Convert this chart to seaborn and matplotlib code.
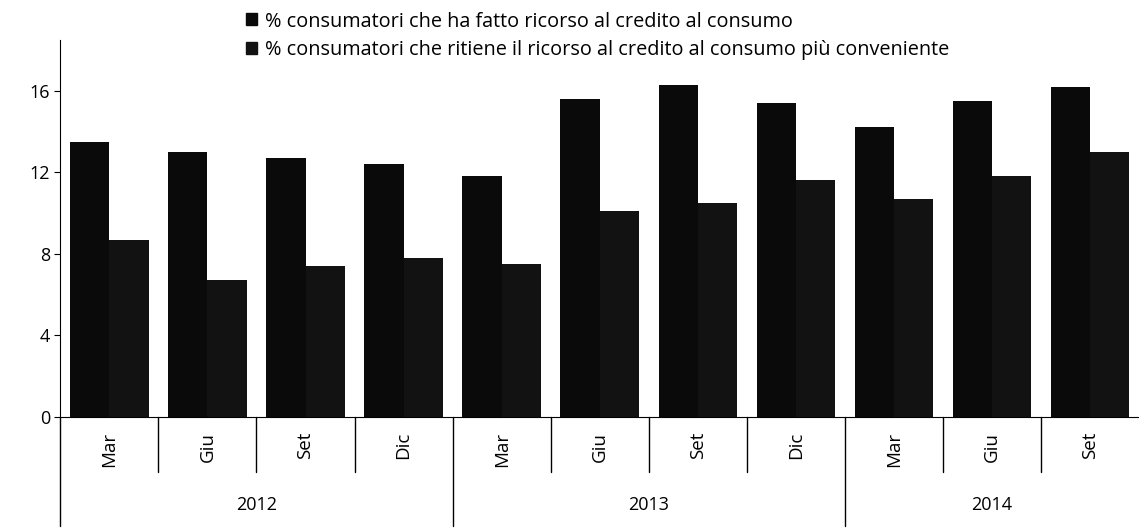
import pandas as pd
import seaborn as sns
import matplotlib.pyplot as plt
from matplotlib.patches import Patch
from matplotlib.transforms import blended_transform_factory

# Data
months = ["Mar", "Giu", "Set", "Dic", "Mar", "Giu", "Set", "Dic", "Mar", "Giu", "Set"]
years = ["2012", "2012", "2012", "2012", "2013", "2013", "2013", "2013", "2014", "2014", "2014"]
series_names = [
    "% consumatori che ha fatto ricorso al credito al consumo",
    "% consumatori che ritiene il ricorso al credito al consumo più conveniente",
]
fatto_ricorso = [13.5, 13.0, 12.7, 12.4, 11.8, 15.6, 16.3, 15.4, 14.2, 15.5, 16.2]
piu_conveniente = [8.7, 6.7, 7.4, 7.8, 7.5, 10.1, 10.5, 11.6, 10.7, 11.8, 13.0]

periods = [f"{m} {y}" for m, y in zip(months, years)]
df = pd.DataFrame({
    "period": periods * 2,
    "value": fatto_ricorso + piu_conveniente,
    "series": [series_names[0]] * len(periods) + [series_names[1]] * len(periods),
})

sns.set_style("white")
plt.rcParams["font.family"] = ["Open Sans", "DejaVu Sans"]
plt.rcParams["text.color"] = "black"
plt.rcParams["xtick.color"] = "black"
plt.rcParams["ytick.color"] = "black"

fig = plt.figure(figsize=(11.39, 5.31), dpi=100)
ax = fig.add_axes([0.053, 0.215, 0.947, 0.71])

colors = ["#0a0a0a", "#121212"]
sns.barplot(data=df, x="period", y="value", hue="series", order=periods,
            palette=colors, width=0.8, saturation=1, linewidth=0,
            ax=ax, legend=False)

ax.set_ylim(0, 18.5)
ax.set_xlim(-0.5, len(periods) - 0.5)
ax.set_yticks([0, 4, 8, 12, 16])
ax.tick_params(axis="y", labelsize=13, length=4, direction="out", left=True)
ax.set_xlabel("")
ax.set_ylabel("")
for side in ["top", "right"]:
    ax.spines[side].set_visible(False)
ax.spines["left"].set_color("black")
ax.spines["bottom"].set_color("black")

# month labels, rotated
ax.set_xticks(range(len(periods)))
ax.set_xticklabels(months, rotation=90, fontsize=13.5)
ax.tick_params(axis="x", length=0, pad=11)

# category separators (multi-level axis)
trans = blended_transform_factory(ax.transData, ax.transAxes)
for i in range(len(periods)):
    x = i - 0.5
    new_year = i == 0 or years[i] != years[i - 1]
    y_end = -0.29 if new_year else -0.145
    ax.plot([x, x], [0, y_end], color="black", lw=1, transform=trans, clip_on=False)

# year labels
for y in dict.fromkeys(years):
    idx = [i for i, yy in enumerate(years) if yy == y]
    ax.text(sum(idx) / len(idx), -0.235, y, transform=trans, ha="center",
            va="center", fontsize=13)

handles = [Patch(facecolor=c, edgecolor=c) for c in colors]
fig.legend(handles, series_names, loc="upper left", bbox_to_anchor=(0.2, 1.012),
           frameon=False, fontsize=14.3, handlelength=0.55, handleheight=0.55,
           handletextpad=0.4, labelspacing=0.45)

fig.savefig("out.png", dpi=100)
